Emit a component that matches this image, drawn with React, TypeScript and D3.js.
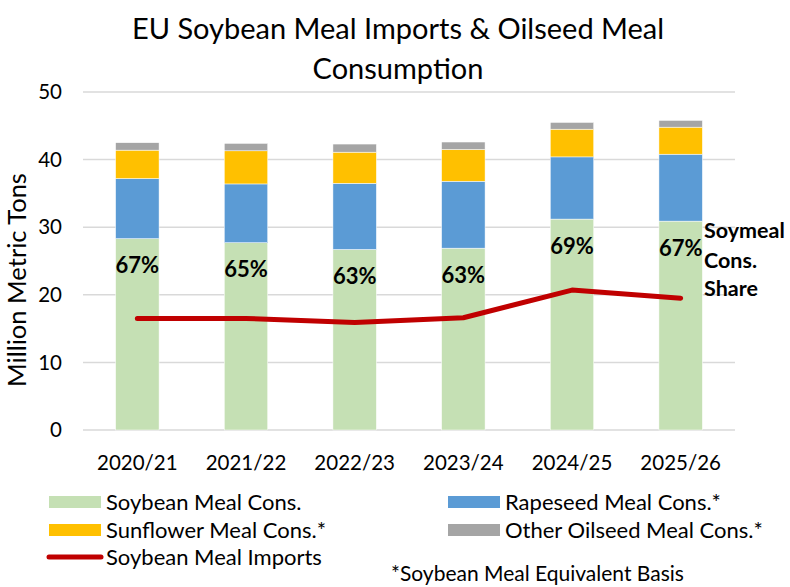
import React from "react";
import * as d3 from "d3";

const categories = ["2020/21", "2021/22", "2022/23", "2023/24", "2024/25", "2025/26"];
const soybeanMeal = [28.3, 27.7, 26.7, 26.9, 31.2, 30.9];
const rapeseedMeal = [8.9, 8.7, 9.8, 9.9, 9.2, 9.9];
const sunflowerMeal = [4.2, 4.9, 4.6, 4.7, 4.1, 4.0];
const otherMeal = [1.1, 1.1, 1.2, 1.1, 1.0, 1.0];
const soybeanImports = [16.5, 16.5, 15.9, 16.6, 20.7, 19.5];
const shareLabels = ["67%", "65%", "63%", "63%", "69%", "67%"];
const yTicks = [0, 10, 20, 30, 40, 50];

const seriesNames = ["Soybean Meal Cons.", "Rapeseed Meal Cons.*", "Sunflower Meal Cons.*", "Other Oilseed Meal Cons.*"];
const seriesColors = ["#C5E0B4", "#5B9BD5", "#FFC000", "#A5A5A5"];
const lineColor = "#C00000";
const FONT = "Lato, 'Open Sans', sans-serif";

export default function App() {
  const W = 790, H = 587;
  const left = 83, right = 735, top = 92, bottom = 430;
  const x = d3.scaleBand().domain(categories).range([left, right]).paddingInner(0.6).paddingOuter(0.3);
  const y = d3.scaleLinear().domain([0, 50]).range([bottom, top]);

  const rows = categories.map((c, i) => ({
    cat: c,
    s0: soybeanMeal[i], s1: rapeseedMeal[i], s2: sunflowerMeal[i], s3: otherMeal[i],
  }));
  const stack = d3.stack<any>().keys(["s0", "s1", "s2", "s3"])(rows);

  const line = d3.line<number>()
    .x((_, i) => (x(categories[i]) as number) + x.bandwidth() / 2)
    .y((d) => y(d));

  const legendItems = [
    { label: seriesNames[0], color: seriesColors[0], lx: 49, ly: 502 },
    { label: seriesNames[1], color: seriesColors[1], lx: 448, ly: 502 },
    { label: seriesNames[2], color: seriesColors[2], lx: 49, ly: 530 },
    { label: seriesNames[3], color: seriesColors[3], lx: 448, ly: 530 },
  ];

  return (
    <svg width={W} height={H} style={{ position: "absolute", left: 0, top: 0, background: "#fff" }} fontFamily={FONT}>
      <text x={398} y={39} textAnchor="middle" fontSize={29} fill="#000">EU Soybean Meal Imports &amp; Oilseed Meal</text>
      <text x={398} y={79} textAnchor="middle" fontSize={29} fill="#000">Consumption</text>

      {yTicks.map((t) => (
        <g key={t}>
          <line x1={left} x2={right} y1={y(t)} y2={y(t)} stroke="#D9D9D9" strokeWidth={1.5} />
          <text x={62} y={y(t)} dy="0.35em" textAnchor="end" fontSize={20.5}>{t}</text>
        </g>
      ))}
      <text transform={`translate(17,${280}) rotate(-90)`} textAnchor="middle" fontSize={25.5} dy="0.35em">Million Metric Tons</text>

      {stack.map((s, si) => (
        <g key={si}>
          {s.map((d, i) => (
            <rect key={i} x={x(categories[i])} width={x.bandwidth()} y={y(d[1])} height={y(d[0]) - y(d[1])} fill={seriesColors[si]} stroke="#fff" strokeWidth={0.5} />
          ))}
        </g>
      ))}

      {categories.map((c, i) => (
        <text key={c} x={(x(c) as number) + x.bandwidth() / 2} y={y(soybeanMeal[i]) + 27} dy="0.35em" textAnchor="middle" fontSize={22} fontWeight="bold">{shareLabels[i]}</text>
      ))}

      <path d={line(soybeanImports) || ""} fill="none" stroke={lineColor} strokeWidth={5} strokeLinecap="round" strokeLinejoin="round" />

      <g fontSize={21.5} fontWeight="bold">
        <text x={704} y={230} dy="0.35em">Soymeal</text>
        <text x={704} y={260} dy="0.35em">Cons.</text>
        <text x={704} y={288} dy="0.35em">Share</text>
      </g>

      {categories.map((c) => (
        <text key={c} x={(x(c) as number) + x.bandwidth() / 2} y={463} dy="0.35em" textAnchor="middle" fontSize={20.5}>{c}</text>
      ))}

      {legendItems.map((l) => (
        <g key={l.label}>
          <rect x={l.lx} y={l.ly - 6} width={52} height={12} fill={l.color} />
          <text x={l.lx + 57} y={l.ly} dy="0.35em" fontSize={22}>{l.label}</text>
        </g>
      ))}
      <line x1={49} x2={101} y1={557} y2={557} stroke={lineColor} strokeWidth={5} strokeLinecap="round" />
      <text x={106} y={557} dy="0.35em" fontSize={22}>Soybean Meal Imports</text>
      <text x={391} y={575} dy="0.3em" fontSize={21}>*Soybean Meal Equivalent Basis</text>
    </svg>
  );
}
